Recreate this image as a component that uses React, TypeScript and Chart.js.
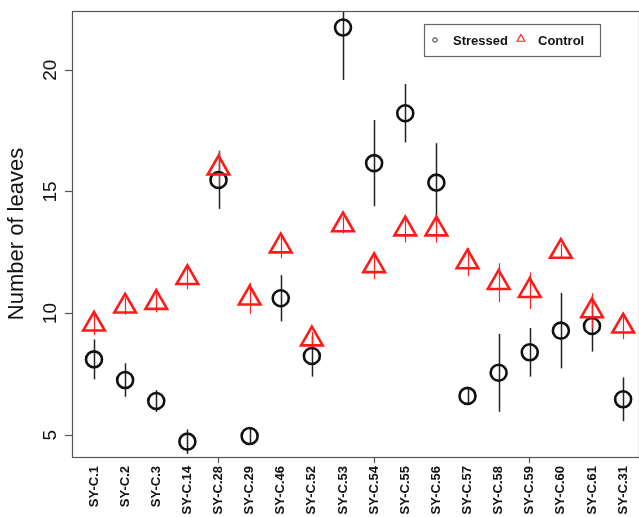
import React, { useEffect, useRef } from "react";
import { Chart, registerables } from "chart.js";

Chart.register(...registerables);

const categories = [
  "SY-C.1", "SY-C.2", "SY-C.3", "SY-C.14", "SY-C.28", "SY-C.29", "SY-C.46", "SY-C.52", "SY-C.53",
  "SY-C.54", "SY-C.55", "SY-C.56", "SY-C.57", "SY-C.58", "SY-C.59", "SY-C.60", "SY-C.61", "SY-C.31",
];
const stressed = [8.12, 7.27, 6.41, 4.74, 15.49, 4.97, 10.63, 8.26, 21.75, 16.18, 18.23, 15.38, 6.62, 7.57, 8.41, 9.3, 9.49, 6.48];
const stressedErr = [0.82, 0.69, 0.45, 0.5, 1.19, 0.35, 0.95, 0.85, 2.15, 1.77, 1.2, 1.62, 0.3, 1.6, 1.0, 1.55, 1.05, 0.9];
const control = [9.56, 10.3, 10.45, 11.47, 15.97, 10.63, 12.77, 8.95, 13.64, 11.96, 13.47, 13.47, 12.12, 11.27, 10.94, 12.55, 10.11, 9.48];
const controlErr = [0.45, 0.35, 0.4, 0.47, 0.73, 0.64, 0.5, 0.3, 0.35, 0.55, 0.55, 0.55, 0.57, 0.8, 0.75, 0.3, 0.73, 0.53];
const yTicks = [5, 10, 15, 20];
const seriesNames = ["Stressed", "Control"];
const yTitle = "Number of leaves";

const FONT = "'Liberation Sans', Arial, Helvetica, sans-serif";

const zeroPad = (s: any) => {
  s.paddingLeft = 0;
  s.paddingRight = 0;
  s.paddingTop = 0;
  s.paddingBottom = 0;
};

const errorBarPlugin = {
  id: "errorBars",
  beforeDatasetsDraw(chart: any) {
    const { ctx, chartArea, scales } = chart;
    const xs = scales.x;
    const ys = scales.y;
    ctx.save();
    ctx.beginPath();
    ctx.rect(chartArea.left, chartArea.top, chartArea.right - chartArea.left, chartArea.bottom - chartArea.top);
    ctx.clip();
    const draw = (vals: number[], errs: number[], color: string, lw: number) => {
      ctx.strokeStyle = color;
      ctx.lineWidth = lw;
      vals.forEach((v, i) => {
        const x = Math.round(xs.getPixelForValue(i + 1)) + 0.5;
        ctx.beginPath();
        ctx.moveTo(x, ys.getPixelForValue(v - errs[i]));
        ctx.lineTo(x, ys.getPixelForValue(v + errs[i]));
        ctx.stroke();
      });
    };
    draw(stressed, stressedErr, "#222", 1.5);
    draw(control, controlErr, "#ff2020", 1.2);
    ctx.restore();
  },
};

const framePlugin = {
  id: "frameLegend",
  afterDraw(chart: any) {
    const { ctx, chartArea } = chart;
    ctx.save();
    ctx.strokeStyle = "#555";
    ctx.lineWidth = 1.2;
    ctx.strokeRect(chartArea.left + 0.5, chartArea.top + 0.5, chartArea.right - chartArea.left, chartArea.bottom - chartArea.top);

    // legend
    const bx = 424, by = 24, bw = 176, bh = 32;
    ctx.strokeStyle = "#666";
    ctx.lineWidth = 1.2;
    ctx.strokeRect(bx + 0.5, by + 0.5, bw, bh);
    const cy = by + bh / 2 + 1;
    ctx.strokeStyle = "#222";
    ctx.lineWidth = 1;
    ctx.beginPath();
    ctx.arc(bx + 11, cy - 1, 2.2, 0, Math.PI * 2);
    ctx.stroke();
    ctx.fillStyle = "#111";
    ctx.font = `bold 13px ${FONT}`;
    ctx.textBaseline = "middle";
    ctx.textAlign = "left";
    ctx.fillText(seriesNames[0], bx + 29, cy);
    // triangle
    const tx = bx + 97, ty = cy - 2, r = 4.5;
    ctx.strokeStyle = "#ff2020";
    ctx.lineWidth = 1.2;
    ctx.beginPath();
    ctx.moveTo(tx, ty - r);
    ctx.lineTo(tx + r * 0.866, ty + r / 2);
    ctx.lineTo(tx - r * 0.866, ty + r / 2);
    ctx.closePath();
    ctx.stroke();
    ctx.fillText(seriesNames[1], bx + 114, cy);
    ctx.restore();
  },
};

export default function App() {
  const ref = useRef<HTMLCanvasElement>(null);
  useEffect(() => {
    document.body.style.margin = "0";
    const canvas = ref.current;
    if (!canvas) return;
    const chart = new Chart(canvas, {
      type: "scatter",
      data: {
        datasets: [
          {
            label: seriesNames[0],
            data: stressed.map((v, i) => ({ x: i + 1, y: v })),
            pointStyle: "circle",
            pointRadius: 8,
            pointHoverRadius: 8,
            borderColor: "#111",
            backgroundColor: "rgba(0,0,0,0)",
            borderWidth: 2.6,
            showLine: false,
            order: 1,
          } as any,
          {
            label: seriesNames[1],
            data: control.map((v, i) => ({ x: i + 1, y: v })),
            pointStyle: "triangle",
            pointRadius: 12.5,
            pointHoverRadius: 12.5,
            borderColor: "#ff1a1a",
            backgroundColor: "rgba(0,0,0,0)",
            borderWidth: 2.6,
            showLine: false,
            order: 0,
          } as any,
        ],
      },
      options: {
        responsive: false,
        animation: false,
        devicePixelRatio: 1,
        layout: { autoPadding: false, padding: { top: 11, left: 0, right: 0, bottom: 0 } },
        plugins: { legend: { display: false }, tooltip: { enabled: false } },
        scales: {
          x: {
            type: "linear",
            min: 0.293,
            max: 18.51,
            afterBuildTicks: (s: any) => {
              s.ticks = categories.map((_, i) => ({ value: i + 1 }));
            },
            afterFit: (s: any) => {
              s.height = 60;
              zeroPad(s);
            },
            ticks: {
              autoSkip: false,
              minRotation: 90,
              maxRotation: 90,
              padding: 3,
              color: "#111",
              font: { family: FONT, size: 13, weight: "bold" },
              callback: (v: any) => categories[Math.round(Number(v)) - 1] ?? "",
            },
            grid: {
              drawOnChartArea: false,
              drawTicks: true,
              tickLength: 6,
              tickWidth: 1.2,
              tickColor: (c: any) => (c.tick && c.tick.value % 5 === 0 ? "#555" : "rgba(0,0,0,0)"),
            },
            border: { display: false },
          },
          y: {
            type: "linear",
            min: 4.11,
            max: 22.43,
            afterBuildTicks: (s: any) => {
              s.ticks = yTicks.map((v) => ({ value: v }));
            },
            afterFit: (s: any) => {
              s.width = 72;
              zeroPad(s);
            },
            ticks: {
              minRotation: 90,
              maxRotation: 90,
              crossAlign: "center",
              padding: 4,
              color: "#111",
              font: { family: FONT, size: 19 },
            },
            grid: { drawOnChartArea: false, tickLength: 7, tickWidth: 1.2, tickColor: "#555" },
            border: { display: false },
            title: {
              display: true,
              text: yTitle,
              color: "#111",
              font: { family: FONT, size: 22 },
              padding: { top: 4, bottom: 0 },
            },
          },
        },
      } as any,
      plugins: [errorBarPlugin, framePlugin],
    });
    return () => chart.destroy();
  }, []);
  return <canvas ref={ref} width={639} height={517} style={{ display: "block" }} />;
}
